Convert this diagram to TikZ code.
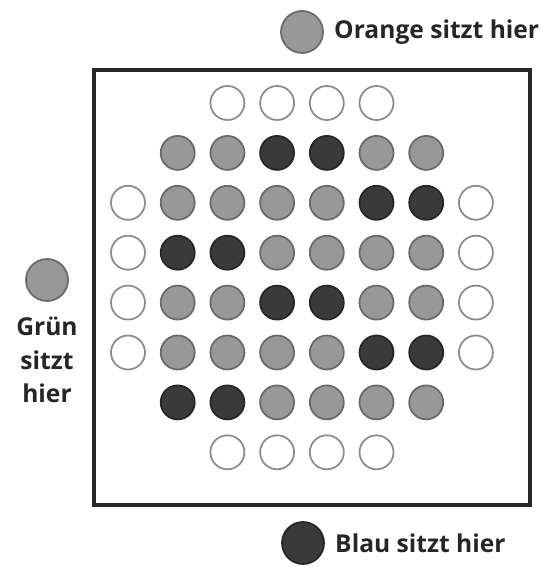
\documentclass[tikz,border=0pt]{standalone}
\usepackage{fontspec}
\setmainfont{Open Sans}
\usetikzlibrary{positioning}
\definecolor{pegline}{RGB}{140,140,140}
\definecolor{pegmid}{RGB}{152,152,152}
\definecolor{pegmidline}{RGB}{105,105,105}
\definecolor{pegdark}{RGB}{58,58,58}
\definecolor{pegdarkline}{RGB}{38,38,38}
\definecolor{frame}{RGB}{40,40,40}
\tikzset{
  peg/.style={circle, inner sep=0pt, minimum size=0.68cm, line width=1pt},
  peg w/.style={peg, draw=pegline, fill=white},
  peg g/.style={peg, draw=pegmidline, fill=pegmid},
  peg b/.style={peg, draw=pegdarkline, fill=pegdark},
  keypeg/.style={circle, inner sep=0pt, minimum size=0.84cm, line width=1pt},
  seat/.style={font=\fontsize{14}{19}\selectfont\bfseries, text=black!85,
    inner sep=0pt},
  boardframe/.style={draw=frame, line width=2.1pt},
}
\begin{document}
\begin{tikzpicture}[x=0.02cm, y=-0.02cm]
  \useasboundingbox (0,0) rectangle (547,567);
  \draw[boardframe] (94,70) rectangle (530,505);

  % board: row / first column / pegs
  \foreach \row/\start/\pegs in {0/2/{w,w,w,w},
      1/1/{g,g,b,b,g,g},
      2/0/{w,g,g,g,g,b,b,w},
      3/0/{w,b,b,g,g,g,g,w},
      4/0/{w,g,g,b,b,g,g,w},
      5/0/{w,g,g,g,g,b,b,w},
      6/1/{b,b,g,g,g,g},
      7/2/{w,w,w,w}}
    \foreach \p [count=\k from 0] in \pegs {
      \pgfmathtruncatemacro\col{\start+\k}
      \node[peg \p] (h-\row-\col) at ({128+49.7*\col}, {103+49.9*\row}) {};
    }

  % seats
  \node[keypeg, draw=pegmidline, fill=pegmid] (orange) at (302,32) {};
  \node[seat, right=0.2cm of orange] (orangetxt) {Orange sitzt hier};

  \node[keypeg, draw=pegmidline, fill=pegmid] (gruen) at (47,280) {};
  \node[seat, align=center, below=0.3cm of gruen] (gruentxt) {Grün\\sitzt\\hier};

  \node[keypeg, draw=pegdarkline, fill=pegdark] (blau) at (303,543) {};
  \node[seat, right=0.2cm of blau] (blautxt) {Blau sitzt hier};
\end{tikzpicture}
\end{document}
